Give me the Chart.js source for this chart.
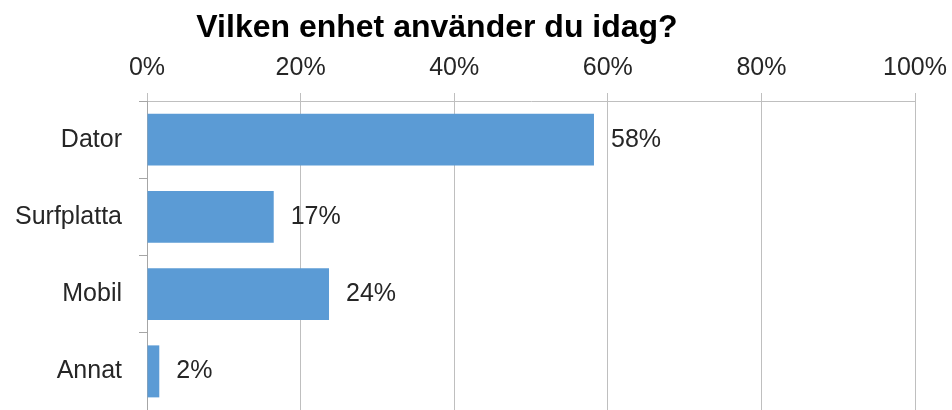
<!DOCTYPE html>
<html>
<head>
<meta charset="utf-8">
<script src="https://cdn.jsdelivr.net/npm/chart.js@4"></script>
<style>
  html, body { margin: 0; padding: 0; background: #ffffff; }
  #wrap { width: 952px; height: 410px; }
</style>
</head>
<body>
<div id="wrap"><canvas id="c" width="952" height="410"></canvas></div>
<script>
const titleText = 'Vilken enhet använder du idag?';
const categories = ['Dator', 'Surfplatta', 'Mobil', 'Annat'];
const shares = [58.2, 16.5, 23.7, 1.6];
const tickValues = [0, 20, 40, 60, 80, 100];

const FONT = '"Liberation Sans", Arial, sans-serif';
const TEXT = '#262626';
const GRID = '#bfbfbf';
const AXIS = '#a6a6a6';

const titlePlugin = {
  id: 'offsetTitle',
  afterDraw(chart) {
    const ctx = chart.ctx;
    ctx.save();
    ctx.font = 'bold 32px ' + FONT;
    ctx.fillStyle = '#000000';
    ctx.textAlign = 'center';
    ctx.textBaseline = 'alphabetic';
    ctx.fillText(titleText, 437, 37);
    ctx.restore();
  }
};

const valueLabels = {
  id: 'valueLabels',
  afterDatasetsDraw(chart) {
    const ctx = chart.ctx;
    const meta = chart.getDatasetMeta(0);
    ctx.save();
    ctx.font = '25px ' + FONT;
    ctx.fillStyle = TEXT;
    ctx.textAlign = 'left';
    ctx.textBaseline = 'middle';
    meta.data.forEach((bar, i) => {
      ctx.fillText(Math.round(shares[i]) + '%', bar.x + 17, bar.y);
    });
    ctx.restore();
  }
};

new Chart(document.getElementById('c'), {
  type: 'bar',
  data: {
    labels: categories,
    datasets: [{
      data: shares,
      backgroundColor: '#5b9bd5',
      borderWidth: 0,
      categoryPercentage: 1,
      barPercentage: 0.673
    }]
  },
  options: {
    indexAxis: 'y',
    responsive: false,
    animation: false,
    devicePixelRatio: 1,
    layout: { padding: { left: 0, right: 37, top: 0, bottom: 0 } },
    plugins: {
      legend: { display: false },
      title: { display: false },
      tooltip: { enabled: false }
    },
    scales: {
      x: {
        position: 'top',
        min: 0,
        max: 100,
        afterBuildTicks(scale) { scale.ticks = tickValues.map(v => ({ value: v })); },
        afterFit(scale) {
          scale.height = 101;
          scale.paddingLeft = 0;
          scale.paddingRight = 0;
        },
        ticks: {
          callback: v => v + '%',
          font: { family: FONT, size: 25 },
          color: TEXT,
          padding: 10,
          maxRotation: 0,
          autoSkip: false
        },
        grid: { color: GRID, lineWidth: 1, tickLength: 8, drawTicks: true },
        border: { display: true, color: GRID, width: 1 }
      },
      y: {
        afterFit(scale) {
          scale.width = 147;
          scale.paddingTop = 0;
          scale.paddingBottom = 0;
        },
        ticks: {
          font: { family: FONT, size: 25 },
          color: TEXT,
          padding: 17
        },
        grid: { drawOnChartArea: false, drawTicks: true, tickLength: 8, color: AXIS, offset: true },
        border: { display: true, color: AXIS, width: 1 }
      }
    }
  },
  plugins: [titlePlugin, valueLabels]
});
</script>
</body>
</html>
